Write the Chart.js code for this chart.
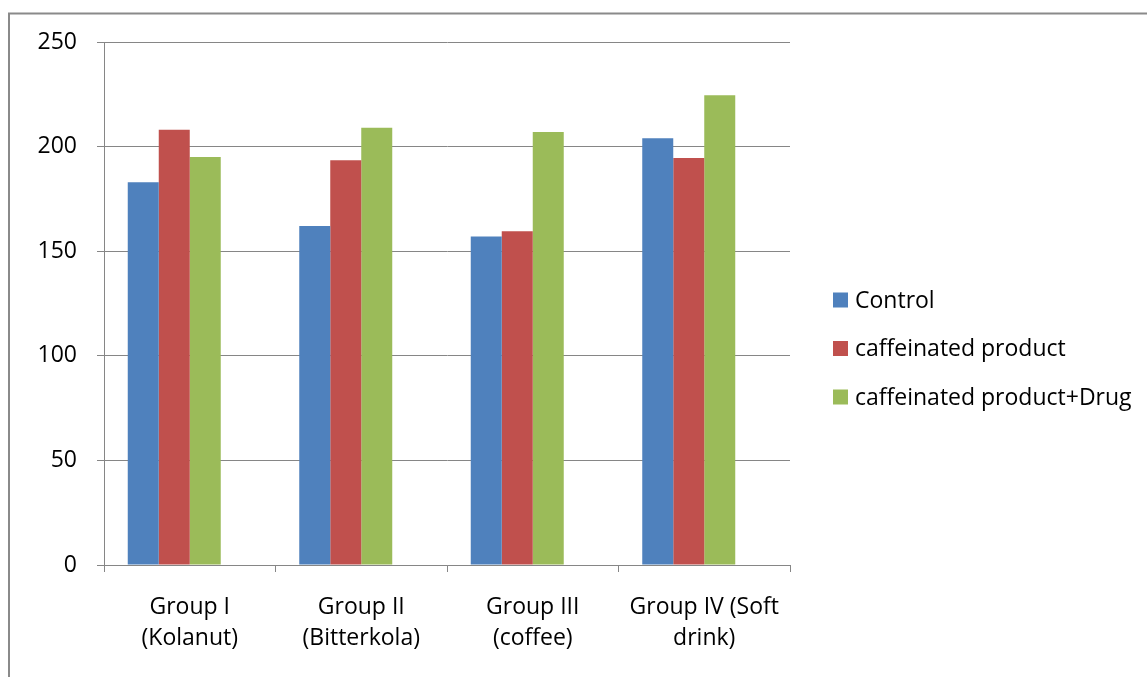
<!DOCTYPE html>
<html>
<head>
<meta charset="utf-8">
<script src="https://cdn.jsdelivr.net/npm/chart.js@4.4.1/dist/chart.umd.min.js"></script>
<style>
  html, body { margin: 0; padding: 0; background: #ffffff; }
  #wrap { position: relative; width: 1147px; height: 677px; }
</style>
</head>
<body>
<div id="wrap"><canvas id="chart" width="1147" height="677"></canvas></div>
<script>
// Groups on the x axis (each label split over two lines)
const categories = [
  ['Group I', '(Kolanut)'],
  ['Group II', '(Bitterkola)'],
  ['Group III', '(coffee)'],
  ['Group IV (Soft', 'drink)']
];

// Series values per group
const controlValues = [183, 162, 157, 204];
const caffeinatedValues = [208, 193.5, 159.5, 194.5];
const caffeinatedDrugValues = [195, 209, 207, 224.5];

// Series names and colours
const seriesNames = ['Control', 'caffeinated product', 'caffeinated product+Drug'];
const seriesColors = ['#4F81BD', '#C0504D', '#9BBB59'];

// Value axis ticks
const yTickValues = [0, 50, 100, 150, 200, 250];

const FONT_FAMILY = '"Open Sans", "Liberation Sans", sans-serif';
const FONT_SIZE = 23;
const AXIS_GRAY = '#868686';

// Frame line along the top and left edges of the figure
const framePlugin = {
  id: 'frame',
  beforeDraw(chart) {
    const ctx = chart.ctx;
    ctx.save();
    ctx.strokeStyle = '#8a8a8a';
    ctx.lineWidth = 2;
    ctx.beginPath();
    ctx.moveTo(9, chart.height + 2);
    ctx.lineTo(9, 13.5);
    ctx.lineTo(chart.width + 2, 13.5);
    ctx.stroke();
    ctx.restore();
  }
};

// Legend drawn to the right of the plot, one row per named series
const sideLegendPlugin = {
  id: 'sideLegend',
  afterDraw(chart) {
    const ctx = chart.ctx;
    const x0 = 833;
    const rows = [300, 348.5, 397];
    ctx.save();
    ctx.font = FONT_SIZE + 'px ' + FONT_FAMILY;
    ctx.textBaseline = 'middle';
    ctx.textAlign = 'left';
    chart.data.datasets.forEach((ds, i) => {
      if (!ds.label) return;
      const y = rows[i];
      ctx.fillStyle = ds.backgroundColor;
      ctx.fillRect(x0, y - 7.5, 15, 15);
      ctx.fillStyle = '#000000';
      ctx.fillText(ds.label, x0 + 22, y + 1);
    });
    ctx.restore();
  }
};

const datasets = [
  { label: seriesNames[0], data: controlValues, backgroundColor: seriesColors[0] },
  { label: seriesNames[1], data: caffeinatedValues, backgroundColor: seriesColors[1] },
  { label: seriesNames[2], data: caffeinatedDrugValues, backgroundColor: seriesColors[2] },
  // empty slot that keeps the spacing of a four-series layout
  { label: '', data: categories.map(() => null), backgroundColor: 'rgba(0,0,0,0)' }
];

new Chart(document.getElementById('chart'), {
  type: 'bar',
  data: { labels: categories, datasets },
  plugins: [framePlugin, sideLegendPlugin],
  options: {
    responsive: false,
    animation: false,
    devicePixelRatio: 1,
    layout: { padding: { left: 0, right: 357, top: 42, bottom: 0 } },
    plugins: {
      legend: { display: false },
      tooltip: { enabled: false }
    },
    datasets: {
      bar: { categoryPercentage: 0.723, barPercentage: 1.0, borderWidth: 0 }
    },
    scales: {
      x: {
        grid: {
          offset: true,
          drawOnChartArea: false,
          drawTicks: true,
          tickLength: 7,
          color: AXIS_GRAY,
          lineWidth: 1
        },
        border: { color: AXIS_GRAY, width: 1 },
        ticks: {
          color: '#000000',
          font: { family: FONT_FAMILY, size: FONT_SIZE, lineHeight: 1.35 },
          padding: 20,
          maxRotation: 0,
          autoSkip: false
        },
        afterFit(scale) { scale.height = 677 - 565; }
      },
      y: {
        min: 0,
        max: 250,
        afterBuildTicks(scale) { scale.ticks = yTickValues.map(v => ({ value: v })); },
        grid: {
          color: AXIS_GRAY,
          lineWidth: 1,
          drawTicks: true,
          tickLength: 7
        },
        border: { color: AXIS_GRAY, width: 1 },
        ticks: {
          color: '#000000',
          font: { family: FONT_FAMILY, size: FONT_SIZE },
          padding: 20
        },
        afterFit(scale) { scale.width = 104; }
      }
    }
  }
});
</script>
</body>
</html>
